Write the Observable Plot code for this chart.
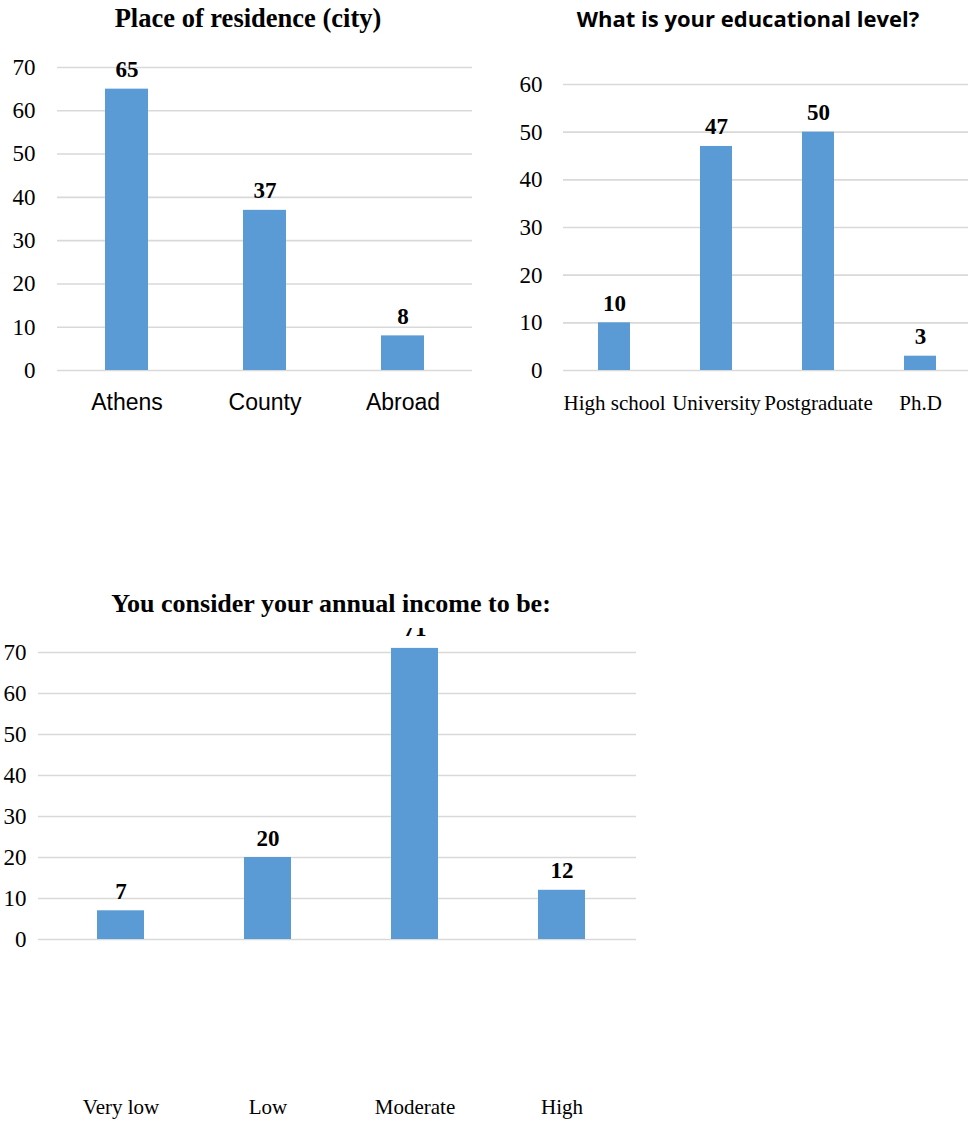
<!DOCTYPE html>
<html><head><meta charset="utf-8">
<script src="https://cdn.jsdelivr.net/npm/d3@7"></script>
<script src="https://cdn.jsdelivr.net/npm/@observablehq/plot@0.6"></script>
<style>
body{margin:0;background:#fff;}
#root{position:relative;width:968px;height:1122px;overflow:hidden;background:#fff;}
.chart{position:absolute;}
.title{position:absolute;text-align:center;color:#000;white-space:nowrap;}
</style></head><body><div id="root"></div>
<script>
const cityCats = ["Athens", "County", "Abroad"];
const cityVals = [65, 37, 8];
const cityTicks = [0, 10, 20, 30, 40, 50, 60, 70];

const eduCats = ["High school", "University", "Postgraduate", "Ph.D"];
const eduVals = [10, 47, 50, 3];
const eduTicks = [0, 10, 20, 30, 40, 50, 60];

const incCats = ["Very low", "Low", "Moderate", "High"];
const incVals = [7, 20, 71, 12];
const incTicks = [0, 10, 20, 30, 40, 50, 60, 70];

const root = document.getElementById("root");

function bars(o) {
  const data = o.cats.map((c, i) => ({cat: c, val: o.vals[i]}));
  const chart = Plot.plot({
    width: o.width, height: o.height,
    marginTop: o.mt, marginBottom: o.mb, marginLeft: o.ml, marginRight: o.mr,
    style: {fontFamily: "Liberation Serif", fontSize: "23px", color: "#000", background: "transparent", overflow: "visible"},
    x: {domain: o.cats, paddingInner: o.pad, paddingOuter: o.pad / 2, insetLeft: o.insetLeft || 0, insetRight: o.insetRight || 0},
    y: {domain: [0, o.yMax]},
    marks: [
      Plot.gridY(o.ticks, {stroke: "#d9d9d9", strokeWidth: 1.6, strokeOpacity: 1}),
      Plot.barY(data, {x: "cat", y: "val", fill: "#5b9bd5"}),
      Plot.text(data, {x: "cat", y: "val", text: d => String(d.val), lineAnchor: "bottom", dy: -12,
        fontWeight: "bold", fontSize: 23, fontFamily: "Liberation Serif", fill: "#000"}),
      Plot.axisY(o.ticks, {tickSize: 0, tickPadding: o.yPad, fontSize: 23, fontFamily: "Liberation Serif", label: null}),
      Plot.axisX({tickSize: 0, tickPadding: o.xPad, fontSize: o.xSize, fontFamily: o.xFont, label: null})
    ]
  });
  chart.classList.add("chart");
  chart.style.left = o.left + "px";
  chart.style.top = o.top + "px";
  root.appendChild(chart);
}

bars({cats: cityCats, vals: cityVals, ticks: cityTicks, yMax: 70,
  left: 0, top: 40, width: 480, height: 390, ml: 57, mr: 8, mt: 27, mb: 60,
  pad: 0.69, yPad: 22, xPad: 23, xSize: 23, xFont: "Liberation Sans"});

bars({cats: eduCats, vals: eduVals, ticks: eduTicks, yMax: 60,
  left: 480, top: 40, width: 488, height: 390, ml: 83, mr: 0, mt: 44, mb: 60, insetRight: -3,
  pad: 0.69, yPad: 21, xPad: 25, xSize: 21, xFont: "Liberation Serif"});

bars({cats: incCats, vals: incVals, ticks: incTicks, yMax: 70,
  left: 0, top: 600, width: 640, height: 522, ml: 38, mr: 4, mt: 52, mb: 183, insetLeft: 8,
  pad: 0.68, yPad: 12, xPad: 160, xSize: 21, xFont: "Liberation Serif"});

function title(text, css) {
  const d = document.createElement("div");
  d.className = "title";
  d.textContent = text;
  Object.assign(d.style, css);
  root.appendChild(d);
}
title("Place of residence (city)", {left: "0px", width: "496px", top: "1px", font: "bold 26.5px 'Liberation Serif'", lineHeight: "34px"});
title("What is your educational level?", {left: "528px", width: "440px", top: "1px", font: "bold 22px 'Open Sans'", lineHeight: "34px"});
title("You consider your annual income to be:", {left: "0px", width: "662px", top: "587px", height: "41px", font: "bold 26px 'Liberation Serif'", lineHeight: "34px", background: "#fff"});
</script></body></html>
